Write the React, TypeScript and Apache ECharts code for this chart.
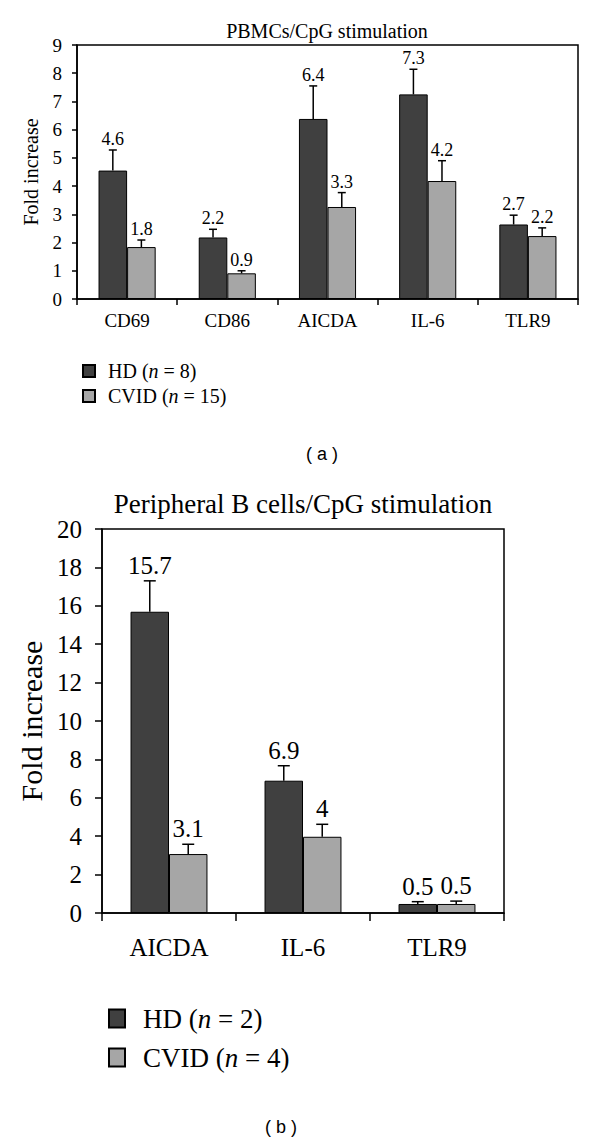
import React, { useEffect, useRef } from "react";
import * as echarts from "echarts";

// Panel (a): PBMCs / CpG stimulation
const categoriesA = ["CD69", "CD86", "AICDA", "IL-6", "TLR9"];
const hdA = [4.55, 2.18, 6.38, 7.25, 2.64];
const hdAErr = [0.73, 0.29, 1.17, 0.89, 0.33];
const hdALabels = ["4.6", "2.2", "6.4", "7.3", "2.7"];
const cvidA = [1.84, 0.91, 3.26, 4.18, 2.23];
const cvidAErr = [0.25, 0.09, 0.51, 0.72, 0.29];
const cvidALabels = ["1.8", "0.9", "3.3", "4.2", "2.2"];
const seriesNamesA = ["HD (n = 8)", "CVID (n = 15)"];

// Panel (b): Peripheral B cells / CpG stimulation
const categoriesB = ["AICDA", "IL-6", "TLR9"];
const hdB = [15.69, 6.89, 0.47];
const hdBErr = [1.61, 0.78, 0.12];
const hdBLabels = ["15.7", "6.9", "0.5"];
const cvidB = [3.07, 3.97, 0.47];
const cvidBErr = [0.51, 0.65, 0.15];
const cvidBLabels = ["3.1", "4", "0.5"];
const seriesNamesB = ["HD (n = 2)", "CVID (n = 4)"];

const SERIF = "'Liberation Serif', 'Times New Roman', serif";
const SANS = "'Liberation Sans', Arial, sans-serif";
const DARK = "#404040";
const LIGHT = "#a6a6a6";

function errSeries(
  values: number[],
  errs: number[],
  labels: string[],
  axisIndex: number,
  sign: number,
  pct: number,
  cap: number,
  fontSize: number,
  gap: number
) {
  return {
    type: "custom",
    xAxisIndex: axisIndex,
    yAxisIndex: axisIndex,
    z: 5,
    silent: true,
    data: values.map((v, i) => [i, v, errs[i]]),
    encode: { x: 0, y: 1 },
    renderItem: (params: any, api: any) => {
      const idx = api.value(0);
      const v = api.value(1);
      const e = api.value(2);
      const base = api.coord([idx, v]);
      const top = api.coord([idx, v + e]);
      const band = api.size([1, 0])[0];
      const x = base[0] + (sign * band * pct) / 2;
      return {
        type: "group",
        children: [
          {
            type: "line",
            shape: { x1: x, y1: base[1], x2: x, y2: top[1] },
            style: { stroke: "#000", lineWidth: 1.5 },
          },
          {
            type: "line",
            shape: { x1: x - cap / 2, y1: top[1], x2: x + cap / 2, y2: top[1] },
            style: { stroke: "#000", lineWidth: 1.5 },
          },
          {
            type: "text",
            x: x,
            y: top[1] - gap,
            style: {
              text: labels[params.dataIndex],
              fontSize: fontSize,
              fontFamily: SERIF,
              fill: "#000",
              align: "center",
              verticalAlign: "bottom",
            },
          },
        ],
      };
    },
  };
}

function italicN(name: string) {
  return "{s| }" + name.replace("n", "{i|n}");
}

export default function App() {
  const ref = useRef<HTMLDivElement>(null);
  useEffect(() => {
    document.body.style.margin = "0";
    const chart = echarts.init(ref.current!, undefined, { renderer: "svg" });
    const pctA = 0.285;
    const pctB = 0.287;
    const option: any = {
      animation: false,
      backgroundColor: "#fff",
      title: [
        {
          text: "PBMCs/CpG stimulation",
          left: 327,
          top: 21,
          padding: 0,
          textAlign: "center",
          textStyle: { fontFamily: SERIF, fontSize: 20, fontWeight: "normal", color: "#000" },
        },
        {
          text: "Peripheral B cells/CpG stimulation",
          left: 303,
          top: 490,
          padding: 0,
          textAlign: "center",
          textStyle: { fontFamily: SERIF, fontSize: 27, fontWeight: "normal", color: "#000" },
        },
      ],
      grid: [
        { left: 77, top: 45, width: 501, height: 254, show: true, borderColor: "#000", borderWidth: 1.5, backgroundColor: "transparent" },
        { left: 102, top: 529, width: 402, height: 384, show: true, borderColor: "#000", borderWidth: 1.5, backgroundColor: "transparent" },
      ],
      legend: [
        {
          data: seriesNamesA,
          left: 77,
          top: 356,
          orient: "vertical",
          itemWidth: 12,
          itemHeight: 12,
          itemGap: 5,
          icon: "rect",
          formatter: italicN,
          textStyle: {
            fontFamily: SERIF,
            fontSize: 20,
            color: "#000",
            rich: {
              s: { width: 8, fontSize: 20, fontFamily: SERIF },
              i: { fontStyle: "italic", fontSize: 20, fontFamily: SERIF, color: "#000" },
            },
          },
        },
        {
          data: seriesNamesB,
          left: 103,
          top: 1000,
          orient: "vertical",
          itemWidth: 16,
          itemHeight: 18,
          itemGap: 12,
          icon: "rect",
          formatter: italicN,
          textStyle: {
            fontFamily: SERIF,
            fontSize: 27,
            color: "#000",
            rich: {
              s: { width: 13, fontSize: 27, fontFamily: SERIF },
              i: { fontStyle: "italic", fontSize: 27, fontFamily: SERIF, color: "#000" },
            },
          },
        },
      ],
      xAxis: [
        {
          type: "category",
          gridIndex: 0,
          data: categoriesA,
          axisLine: { lineStyle: { color: "#000", width: 1.5 } },
          axisTick: { show: true, length: 6, lineStyle: { color: "#000", width: 1.5 } },
          axisLabel: { fontFamily: SERIF, fontSize: 19, color: "#000", margin: 12 },
        },
        {
          type: "category",
          gridIndex: 1,
          data: categoriesB,
          axisLine: { lineStyle: { color: "#000", width: 1.5 } },
          axisTick: { show: true, length: 8, lineStyle: { color: "#000", width: 1.5 } },
          axisLabel: { fontFamily: SERIF, fontSize: 25, color: "#000", margin: 22 },
        },
      ],
      yAxis: [
        {
          type: "value",
          gridIndex: 0,
          min: 0,
          max: 9,
          interval: 1,
          name: "Fold increase",
          nameLocation: "middle",
          nameGap: 36,
          nameTextStyle: { fontFamily: SERIF, fontSize: 20, color: "#000" },
          axisLine: { show: true, lineStyle: { color: "#000", width: 1.5 } },
          axisTick: { show: true, length: 5, lineStyle: { color: "#000", width: 1.5 } },
          axisLabel: { fontFamily: SERIF, fontSize: 19, color: "#000", margin: 15 },
          splitLine: { show: false },
        },
        {
          type: "value",
          gridIndex: 1,
          min: 0,
          max: 20,
          interval: 2,
          name: "Fold increase",
          nameLocation: "middle",
          nameGap: 56,
          nameTextStyle: { fontFamily: SERIF, fontSize: 30, color: "#000" },
          axisLine: { show: true, lineStyle: { color: "#000", width: 1.5 } },
          axisTick: { show: true, length: 7, lineStyle: { color: "#000", width: 1.5 } },
          axisLabel: { fontFamily: SERIF, fontSize: 25, color: "#000", margin: 20 },
          splitLine: { show: false },
        },
      ],
      series: [
        {
          name: seriesNamesA[0],
          type: "bar",
          xAxisIndex: 0,
          yAxisIndex: 0,
          data: hdA,
          barWidth: pctA * 100 + "%",
          barGap: "0%",
          itemStyle: { color: DARK, borderColor: "#000", borderWidth: 1 },
        },
        {
          name: seriesNamesA[1],
          type: "bar",
          xAxisIndex: 0,
          yAxisIndex: 0,
          data: cvidA,
          barWidth: pctA * 100 + "%",
          barGap: "0%",
          itemStyle: { color: LIGHT, borderColor: "#000", borderWidth: 1 },
        },
        {
          name: seriesNamesB[0],
          type: "bar",
          xAxisIndex: 1,
          yAxisIndex: 1,
          data: hdB,
          barWidth: pctB * 100 + "%",
          barGap: "0%",
          itemStyle: { color: DARK, borderColor: "#000", borderWidth: 1 },
        },
        {
          name: seriesNamesB[1],
          type: "bar",
          xAxisIndex: 1,
          yAxisIndex: 1,
          data: cvidB,
          barWidth: pctB * 100 + "%",
          barGap: "0%",
          itemStyle: { color: LIGHT, borderColor: "#000", borderWidth: 1 },
        },
        errSeries(hdA, hdAErr, hdALabels, 0, -1, pctA, 8, 18, 2),
        errSeries(cvidA, cvidAErr, cvidALabels, 0, 1, pctA, 8, 18, 2),
        errSeries(hdB, hdBErr, hdBLabels, 1, -1, pctB, 12, 25, 3),
        errSeries(cvidB, cvidBErr, cvidBLabels, 1, 1, pctB, 12, 25, 3),
      ],
      graphic: [
        {
          type: "text",
          x: 322,
          y: 454,
          style: { text: "( a )", fontFamily: SANS, fontSize: 18, fill: "#000", align: "center", verticalAlign: "middle" },
        },
        {
          type: "text",
          x: 281,
          y: 1127,
          style: { text: "( b )", fontFamily: SANS, fontSize: 18, fill: "#000", align: "center", verticalAlign: "middle" },
        },
      ],
    };
    chart.setOption(option);
    return () => chart.dispose();
  }, []);
  return (
    <div
      ref={ref}
      style={{ position: "absolute", left: 0, top: 0, width: 600, height: 1142, background: "#fff" }}
    />
  );
}
